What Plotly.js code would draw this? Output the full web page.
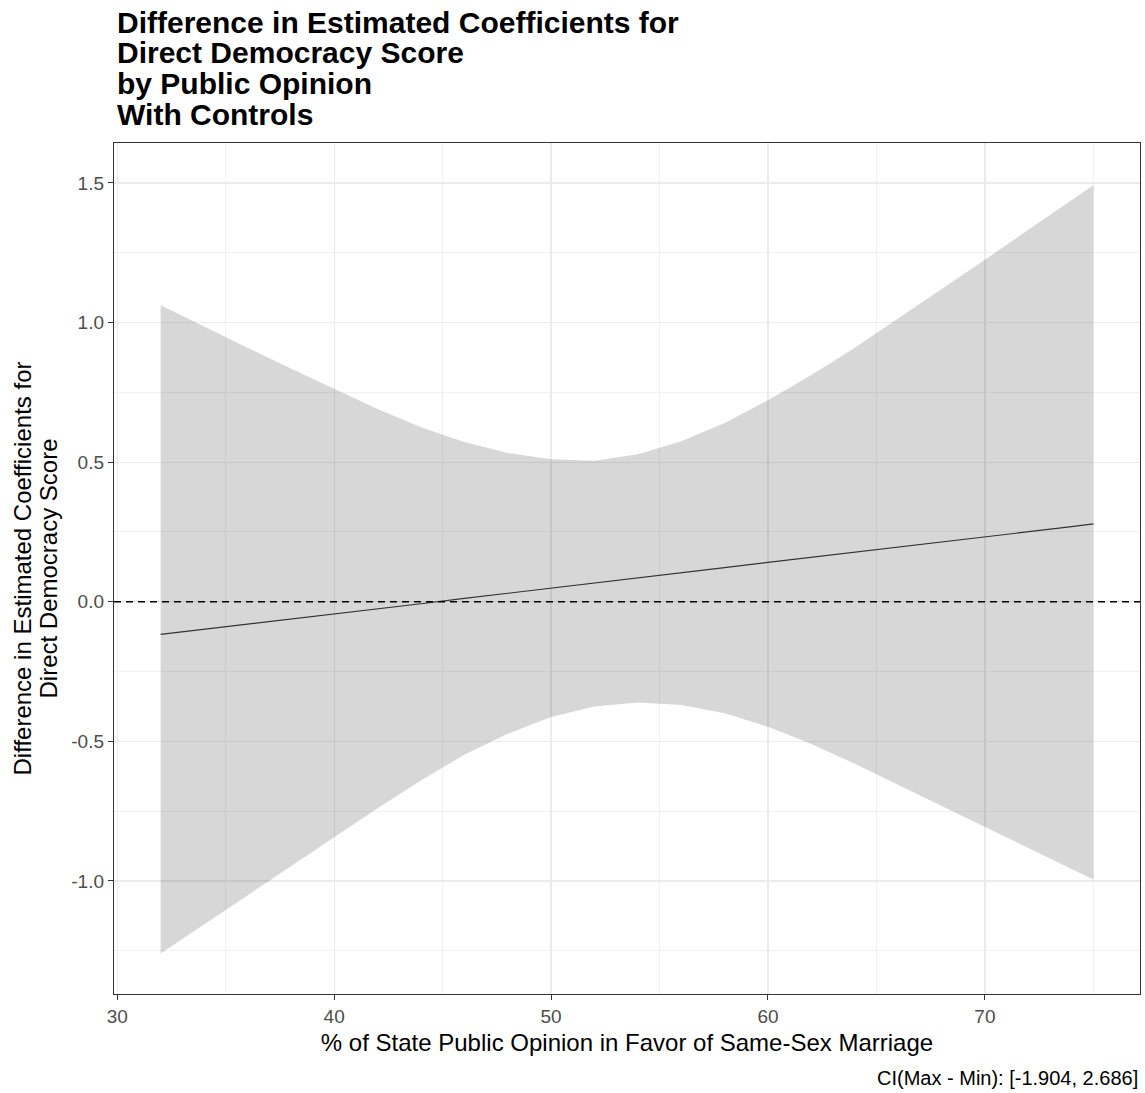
<!DOCTYPE html>
<html>
<head>
<meta charset="utf-8">
<script src="https://cdn.plot.ly/plotly-3.0.1.min.js"></script>
<style>
  html, body { margin: 0; padding: 0; background: #ffffff; }
  #chart { width: 1145px; height: 1093px; }
</style>
</head>
<body>
<div id="chart"></div>
<script>
// Public opinion (% in favor of same-sex marriage)
const opinion = [32, 34, 36, 38, 40, 42, 44, 46, 48, 50, 52, 54, 56, 58, 60, 62, 64, 66, 68, 70, 72, 74, 75];
// Estimated difference in coefficients (point estimate)
const estimate = [-0.117, -0.099, -0.080, -0.062, -0.043, -0.025, -0.007, 0.012, 0.030, 0.049, 0.067, 0.085, 0.104, 0.122, 0.141, 0.159, 0.177, 0.196, 0.214, 0.233, 0.251, 0.269, 0.279];
// Confidence interval bounds
const upper = [1.062, 0.985, 0.910, 0.835, 0.762, 0.690, 0.625, 0.572, 0.533, 0.510, 0.505, 0.528, 0.575, 0.640, 0.722, 0.812, 0.910, 1.014, 1.120, 1.225, 1.332, 1.438, 1.492];
const lower = [-1.260, -1.156, -1.052, -0.948, -0.844, -0.740, -0.640, -0.548, -0.473, -0.413, -0.375, -0.361, -0.370, -0.399, -0.448, -0.510, -0.580, -0.655, -0.730, -0.805, -0.880, -0.955, -0.995];

const xTicks = [30, 40, 50, 60, 70];
const yTicks = [-1.0, -0.5, 0.0, 0.5, 1.0, 1.5];
const yTickLabels = ['-1.0', '-0.5', '0.0', '0.5', '1.0', '1.5'];

const titleLines = ['Difference in Estimated Coefficients for', 'Direct Democracy Score', 'by Public Opinion', 'With Controls'];
const xTitle = '% of State Public Opinion in Favor of Same-Sex Marriage';
const yTitleLines = ['Difference in Estimated Coefficients for', 'Direct Democracy Score'];
const caption = 'CI(Max - Min): [-1.904, 2.686]';

const FONT = '"Liberation Sans", Arial, Helvetica, sans-serif';

// layout geometry (pixels)
const W = 1145, H = 1093;
const M = { l: 114, r: 5, t: 143, b: 99 };
const plotW = W - M.l - M.r, plotH = H - M.t - M.b;
const pxToPaperY = (py) => 1 + (M.t - py) / plotH;
const pxToPaperX = (px) => (px - M.l) / plotW;

const traces = [
  {
    x: opinion, y: lower, type: 'scatter', mode: 'lines',
    line: { width: 0, color: 'rgba(0,0,0,0)' },
    hoverinfo: 'skip', showlegend: false
  },
  {
    x: opinion, y: upper, type: 'scatter', mode: 'lines',
    fill: 'tonexty', fillcolor: 'rgba(0,0,0,0.155)',
    line: { width: 0, color: 'rgba(0,0,0,0)' },
    hoverinfo: 'skip', showlegend: false
  },
  {
    x: opinion, y: estimate, type: 'scatter', mode: 'lines',
    line: { width: 1.1, color: '#333333' },
    showlegend: false
  }
];

const titleY = [22, 53, 84, 115];
const annotations = [];
titleLines.forEach((t, i) => {
  annotations.push({
    text: '<b>' + t + '</b>', xref: 'paper', x: pxToPaperX(115), xanchor: 'left',
    yref: 'paper', y: pxToPaperY(titleY[i]), yanchor: 'middle', showarrow: false,
    font: { family: FONT, size: 30, color: '#000000' }
  });
});
const yTitleX = [22, 48];
yTitleLines.forEach((t, i) => {
  annotations.push({
    text: t, xref: 'paper', x: pxToPaperX(yTitleX[i]), xanchor: 'center',
    yref: 'paper', y: 0.5, yanchor: 'middle', textangle: -90, showarrow: false,
    font: { family: FONT, size: 24, color: '#000000' }
  });
});
annotations.push({
  text: caption, xref: 'paper', x: 1, xanchor: 'right',
  yref: 'paper', y: pxToPaperY(1078), yanchor: 'middle', showarrow: false,
  font: { family: FONT, size: 20, color: '#000000' }
});

const layout = {
  width: W, height: H,
  paper_bgcolor: '#ffffff', plot_bgcolor: '#ffffff',
  margin: M,
  font: { family: FONT, color: '#000000' },
  showlegend: false,
  xaxis: {
    range: [29.85, 77.15],
    tickmode: 'array', tickvals: xTicks, ticktext: xTicks.map(String),
    ticks: 'outside', ticklen: 5, tickwidth: 1, tickcolor: '#333333',
    tickfont: { family: FONT, size: 19, color: '#4d4d4d' },
    showgrid: true, gridcolor: '#ebebeb', gridwidth: 1.2,
    minor: { dtick: 5, tick0: 0, showgrid: true, gridcolor: '#ebebeb', gridwidth: 0.7, ticks: '' },
    showline: true, mirror: true, linecolor: '#333333', linewidth: 1.2,
    zeroline: false,
    title: { text: xTitle, font: { family: FONT, size: 24, color: '#000000' }, standoff: 8 }
  },
  yaxis: {
    range: [-1.405, 1.643],
    tickmode: 'array', tickvals: yTicks, ticktext: yTickLabels,
    ticks: 'outside', ticklen: 5, tickwidth: 1, tickcolor: '#333333',
    tickfont: { family: FONT, size: 19, color: '#4d4d4d' },
    showgrid: true, gridcolor: '#ebebeb', gridwidth: 1.2,
    minor: { dtick: 0.25, tick0: 0, showgrid: true, gridcolor: '#ebebeb', gridwidth: 0.7, ticks: '' },
    showline: true, mirror: true, linecolor: '#333333', linewidth: 1.2,
    zeroline: false
  },
  shapes: [
    {
      type: 'line', xref: 'paper', x0: 0, x1: 1, yref: 'y', y0: 0, y1: 0,
      line: { color: '#000000', width: 1.5, dash: '7px,5px' }
    }
  ],
  annotations: annotations
};

Plotly.newPlot('chart', traces, layout, { displayModeBar: false, staticPlot: true });
</script>
</body>
</html>
